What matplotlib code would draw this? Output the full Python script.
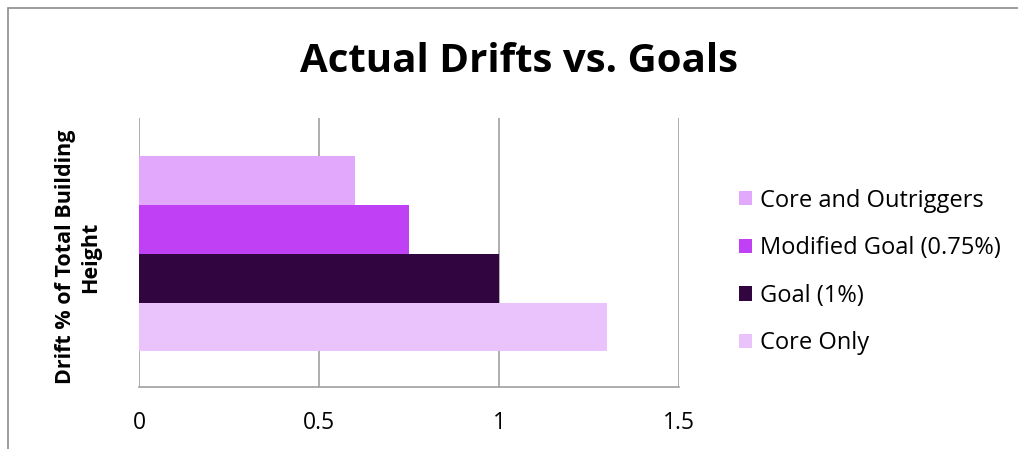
import numpy as np
import matplotlib.pyplot as plt
from matplotlib.patches import Rectangle, Patch

plt.rcParams['font.family'] = ['Open Sans', 'DejaVu Sans']

# Series in plotting order (bottom to top)
series = ['Core Only', 'Goal (1%)', 'Modified Goal (0.75%)', 'Core and Outriggers']
values = [1.3, 1.0, 0.75, 0.6]
colors = ['#EBC3FC', '#300540', '#C040F5', '#E2A8FB']
xticks = [0, 0.5, 1, 1.5]

W, H = 1018, 449
fig = plt.figure(figsize=(W / 100, H / 100), dpi=100)

# outer chart frame
fig.patches.append(Rectangle((8 / W, -0.1), 1.2, 1 - 8 / H + 0.1, transform=fig.transFigure,
                             fill=False, edgecolor='#8c8c8c', linewidth=1.2))

ax = fig.add_axes([139 / W, (H - 387) / H, (679 - 139) / W, (387 - 118) / H])

bar_h = 0.182
center = 0.496
offsets = (np.arange(len(series)) - 1.5) * bar_h
for s, v, c, o in zip(series, values, colors, offsets):
    ax.barh(center + o, v, height=bar_h, color=c, zorder=3)

ax.set_xlim(0, 1.5)
ax.set_ylim(0, 1)
ax.set_xticks(xticks)
ax.set_xticklabels(['0', '0.5', '1', '1.5'], fontsize=16.5)
ax.set_yticks([])
ax.tick_params(axis='x', length=0, pad=17)
ax.grid(axis='x', color='#a0a0a0', linewidth=1.2, zorder=0)
for side in ['top', 'right', 'left']:
    ax.spines[side].set_visible(False)
ax.spines['bottom'].set_color('#a0a0a0')
ax.spines['bottom'].set_linewidth(1.2)

fig.text(78 / W, 1 - 257 / H, 'Drift % of Total Building\nHeight', rotation=90,
         ha='center', va='center', multialignment='center',
         fontsize=15.5, fontweight='bold', linespacing=1.25)

fig.text(519 / W, 1 - 62 / H, 'Actual Drifts vs. Goals', ha='center', va='center',
         fontsize=29, fontweight='bold')

handles = [Patch(facecolor=c) for c in colors[::-1]]
fig.legend(handles, series[::-1], loc='center left', bbox_to_anchor=(718 / W, 1 - 272 / H),
           frameon=False, fontsize=17, handlelength=0.55, handleheight=0.55,
           handletextpad=0.35, labelspacing=1.0)

fig.savefig('out.png', dpi=100)
